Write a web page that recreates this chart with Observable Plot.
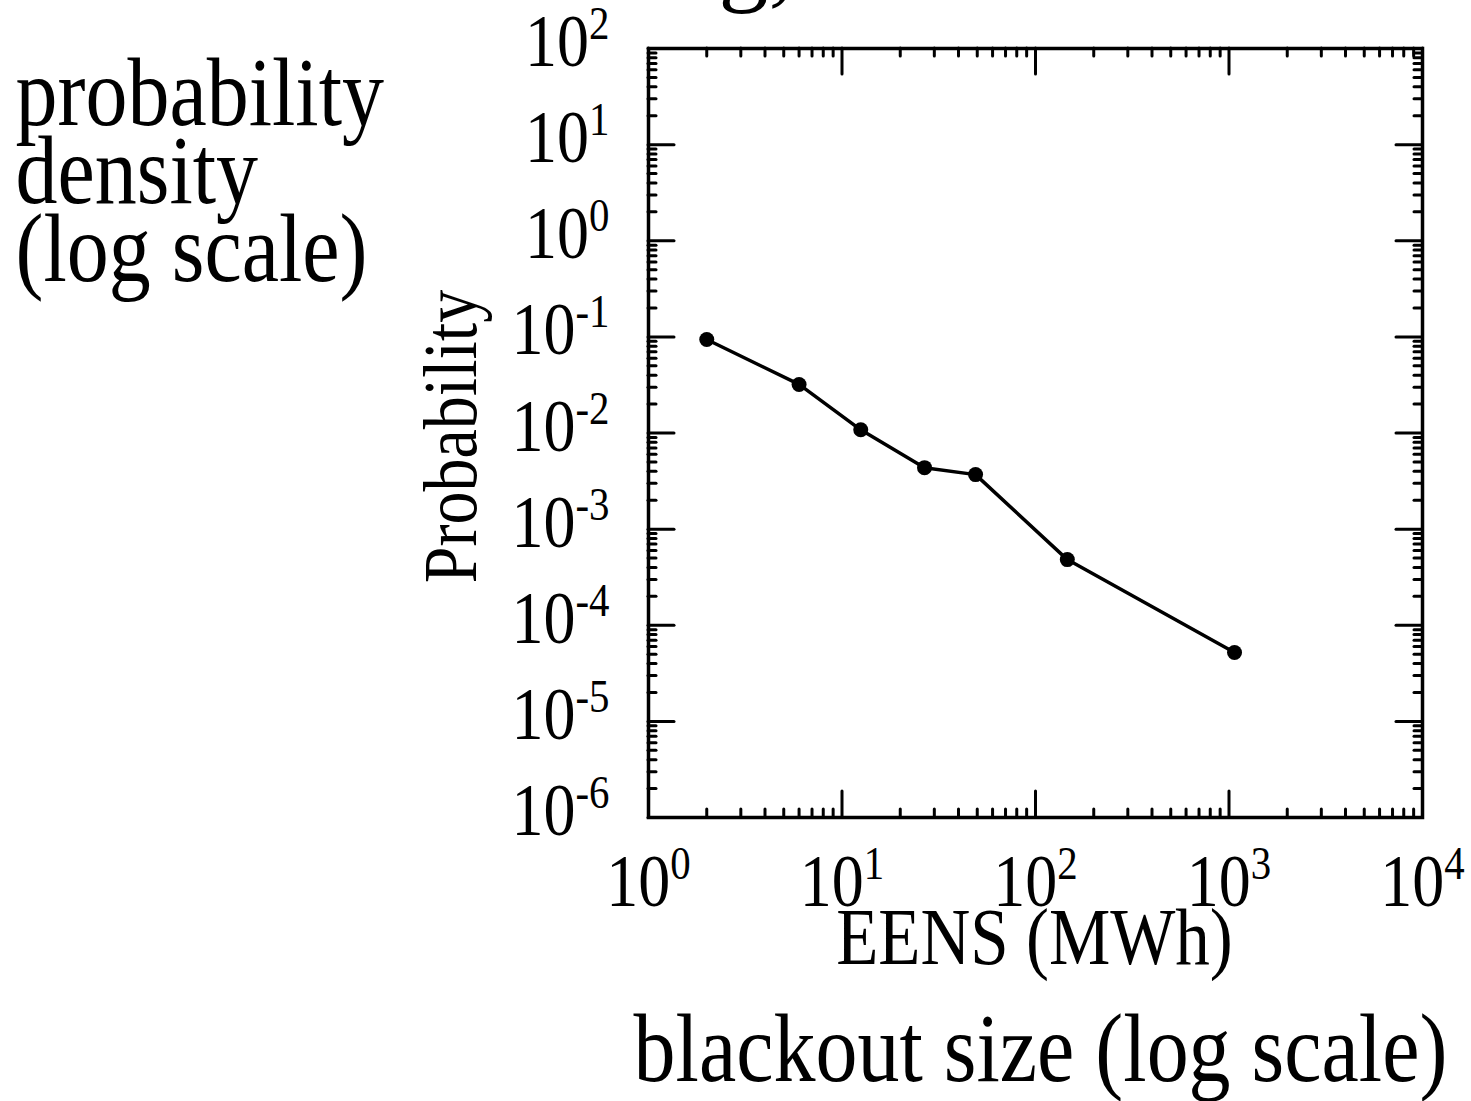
<!DOCTYPE html>
<html>
<head>
<meta charset="utf-8">
<script src="https://cdn.jsdelivr.net/npm/d3@7"></script>
<script src="https://cdn.jsdelivr.net/npm/@observablehq/plot@0.6"></script>
<style>
  html, body { margin: 0; padding: 0; background: #fff; }
  #chart svg { display: block; }
</style>
</head>
<body>
<div id="chart"></div>
<script>
// Data
const eens = [2, 6, 12.5, 26.7, 49, 146, 1068];
const prob = [0.094, 0.032, 0.0108, 0.00436, 0.00369, 0.000482, 0.000052];

// Tick values
const xMajor = [1, 10, 100, 1000, 10000];
const yMajor = [1e-6, 1e-5, 1e-4, 1e-3, 1e-2, 1e-1, 1, 10, 100];
const mantissas = [2, 3, 4, 5, 6, 7, 8, 9];
const xMinor = xMajor.slice(0, -1).flatMap(d => mantissas.map(m => m * d));
const yMinor = yMajor.slice(0, -1).flatMap(d => mantissas.map(m => +(m * d).toPrecision(3)));

// Texts
const xLabel = "EENS (MWh)";
const yLabel = "Probability";
const sideNote = "probability\ndensity\n(log scale)";
const bottomNote = "blackout size (log scale)";
const topFragment = "g,";

const data = eens.map((x, i) => ({x, y: prob[i]}));

const W = 1471, H = 1101;
const mL = 648, mR = 49, mT = 48, mB = 284;
const pw = W - mL - mR, ph = H - mT - mB;
const majorLen = 26, minorLen = 8;
const tickStyle = {stroke: "#000", strokeWidth: 3, strokeLinecap: "round"};
const fmt = d => "10^" + Math.round(Math.log10(d));
const S = 1.15; // glyphs in the reference are taller than wide
const tickFont = 64 * S;

const chart = Plot.plot({
  width: W,
  height: H,
  marginLeft: mL, marginRight: mR, marginTop: mT, marginBottom: mB,
  style: {fontFamily: "'Liberation Serif', 'Times New Roman', serif", background: "#fff", color: "#000", overflow: "hidden"},
  x: {type: "log", domain: [1, 10000]},
  y: {type: "log", domain: [1e-6, 100]},
  marks: [
    // inward ticks: bottom & top
    Plot.tickX(xMajor, {x: d => d, insetTop: ph - majorLen, ...tickStyle}),
    Plot.tickX(xMajor, {x: d => d, insetBottom: ph - majorLen, ...tickStyle}),
    Plot.tickX(xMinor, {x: d => d, insetTop: ph - minorLen, ...tickStyle}),
    Plot.tickX(xMinor, {x: d => d, insetBottom: ph - minorLen, ...tickStyle}),
    // inward ticks: left & right
    Plot.tickY(yMajor, {y: d => d, insetRight: pw - majorLen, ...tickStyle}),
    Plot.tickY(yMajor, {y: d => d, insetLeft: pw - majorLen, ...tickStyle}),
    Plot.tickY(yMinor, {y: d => d, insetRight: pw - minorLen, ...tickStyle}),
    Plot.tickY(yMinor, {y: d => d, insetLeft: pw - minorLen, ...tickStyle}),
    Plot.frame({stroke: "#000", strokeWidth: 3.5}),
    // tick labels
    Plot.axisX(xMajor, {tickSize: 0, tickPadding: 36, fontSize: tickFont, tickFormat: fmt, label: null}),
    Plot.axisY(yMajor, {tickSize: 0, tickPadding: 39, fontSize: tickFont, tickFormat: fmt, label: null, dy: -6}),
    // data
    Plot.line(data, {x: "x", y: "y", stroke: "#000", strokeWidth: 3.5}),
    Plot.dot(data, {x: "x", y: "y", r: 7.5, fill: "#000", stroke: null}),
    // axis titles
    Plot.text([xLabel], {text: d => d, frameAnchor: "bottom", dx: -1, dy: 146, lineAnchor: "bottom", fontSize: 69 * S, fill: "#000"}),
    Plot.text([yLabel], {text: d => d, frameAnchor: "left", dx: 475 - mL, dy: 3.5, rotate: -90, lineAnchor: "bottom", textAnchor: "middle", fontSize: 66 * S, fill: "#000"}),
    // annotations
    Plot.text([sideNote], {text: d => d, frameAnchor: "top-left", dx: 15 - mL, dy: 280 - mT, textAnchor: "start", lineAnchor: "bottom", lineHeight: 78 / (84 * S), fontSize: 84 * S, fill: "#000"}),
    Plot.text([bottomNote], {text: d => d, frameAnchor: "bottom", dx: 5, dy: 1080 - (H - mB), textAnchor: "middle", lineAnchor: "bottom", fontSize: 84 * S, fill: "#000"}),
    Plot.text([topFragment], {text: d => d, frameAnchor: "top-left", dx: 718 - mL, dy: -8 - mT, textAnchor: "start", lineAnchor: "bottom", fontSize: 100, fill: "#000", className: "frag"})
  ]
});

// Render exponents as superscripts
d3.select(chart)
  .selectAll('g[aria-label="x-axis tick label"] text, g[aria-label="y-axis tick label"] text')
  .each(function () {
    const [base, exp] = this.textContent.split("^");
    const sel = d3.select(this);
    this.textContent = "";
    sel.append("tspan").text(base);
    sel.append("tspan").attr("dy", -27).attr("font-size", 47).text(exp);
  });

// Narrow the glyphs horizontally so they are as tall as in the reference
d3.select(chart).selectAll("text").each(function () {
  if (this.closest(".frag")) return;
  const t = this.getAttribute("transform") || "";
  this.setAttribute("transform", (t + ` scale(${1 / S},1)`).trim());
});

document.getElementById("chart").appendChild(chart);
</script>
</body>
</html>
